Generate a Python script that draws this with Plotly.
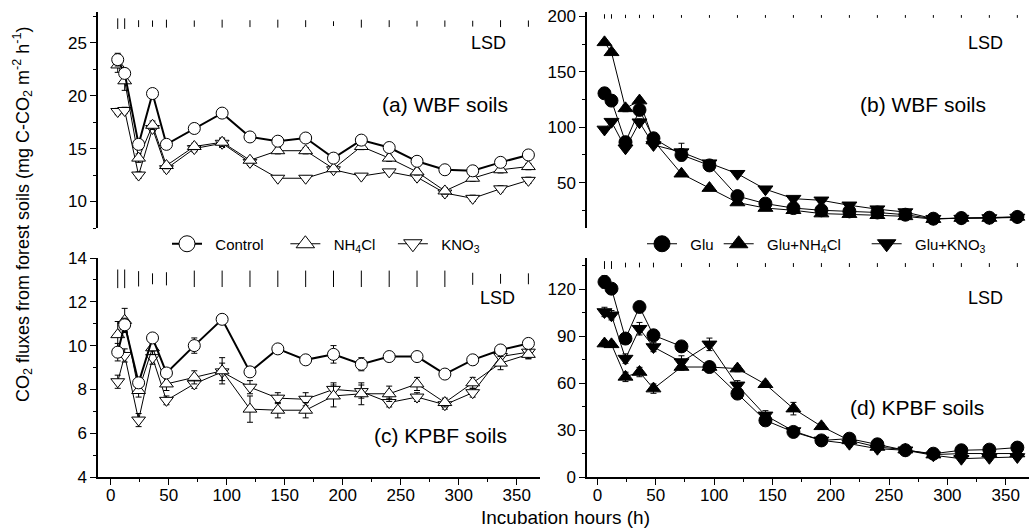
import plotly.graph_objects as go

W, H = 1029, 531

hours = [6, 12, 24, 36, 48, 72, 96, 120, 144, 168, 192, 216, 240, 264, 288, 312, 336, 360]

# (a) WBF soils, no glucose
wbf_control = [23.4, 22.1, 15.4, 20.2, 15.4, 16.9, 18.35, 16.1, 15.7, 16.0, 14.1, 15.8, 15.1, 13.8, 13.0, 12.9, 13.7, 14.4]
wbf_nh4cl = [22.9, 21.4, 14.1, 17.2, 13.4, 15.2, 15.6, 13.9, 14.8, 14.8, 13.1, 15.2, 14.1, 12.8, 11.0, 12.2, 13.0, 13.3]
wbf_kno3 = [18.5, 18.6, 12.5, 16.9, 13.1, 15.0, 15.5, 13.7, 12.2, 12.2, 13.0, 12.4, 12.8, 12.3, 10.8, 10.3, 11.2, 12.0]
wbf_control_err = [0.6, 0.4, 0.3, 0.3, 0.2, 0.2, 0.2, 0.3, 0.2, 0.2, 0.3, 0.2, 0.2, 0.2, 0.1, 0.2, 0.2, 0.2]
wbf_nh4cl_err = [0.7, 0.9, 0.4, 0.4, 0.3, 0.3, 0.4, 0.2, 0.3, 0.3, 0.2, 0.3, 0.3, 0.3, 0.3, 0.3, 0.3, 0.3]
wbf_kno3_err = [0.3, 0.3, 0.3, 0.3, 0.3, 0.3, 0.4, 0.3, 0.2, 0.2, 0.2, 0.2, 0.2, 0.3, 0.3, 0.3, 0.3, 0.3]
wbf_lsd = [1.0, 1.0, 0.65, 0.6, 0.75, 0.6, 0.75, 0.65, 0.75, 0.65, 0.45, 0.75, 0.65, 0.55, 0.6, 0.55, 0.65, 0.6]

# (b) WBF soils, with glucose
wbf_glu = [130.6, 124.0, 86.5, 115.6, 90.0, 75.0, 65.5, 37.8, 31.0, 27.0, 25.0, 24.0, 23.0, 21.0, 17.4, 18.0, 18.3, 19.0]
wbf_glu_nh4cl = [176.6, 167.6, 117.0, 124.0, 88.0, 58.0, 45.0, 32.0, 27.0, 25.0, 22.0, 21.5, 20.5, 19.5, 17.0, 18.0, 18.0, 19.0]
wbf_glu_kno3 = [98.0, 105.0, 81.0, 104.5, 84.0, 77.5, 67.5, 58.0, 44.0, 35.5, 34.0, 29.5, 26.0, 23.4, 17.4, 17.5, 18.0, 18.5]
wbf_glu_err = [2, 2, 2, 3, 2, 2, 2, 2, 1.5, 1.5, 1.5, 1.5, 1.5, 1.5, 1, 1, 1, 1]
wbf_glu_nh4cl_err = [2, 2, 3, 2, 2, 2, 2, 2, 1.5, 1.5, 1.5, 1.5, 1.5, 1.5, 1, 1, 1, 1]
wbf_glu_kno3_err = [2, 2, 2, 3, 2, 8, 2, 2, 2, 1.5, 2, 2, 2, 2, 1, 1, 1, 1]
wbf_glu_lsd = [4, 4, 3, 3, 3, 2.5, 2.5, 2.5, 2.5, 2.5, 2.5, 2.5, 2.5, 2.5, 2.5, 2.5, 2.5, 2.5]

# (c) KPBF soils, no glucose
kpbf_control = [9.7, 10.95, 8.3, 10.35, 8.75, 10.0, 11.2, 8.8, 9.85, 9.35, 9.6, 9.15, 9.5, 9.5, 8.7, 9.35, 9.8, 10.1]
kpbf_nh4cl = [10.5, 11.15, 7.95, 9.9, 8.25, 8.55, 8.85, 7.1, 7.05, 7.05, 7.7, 7.8, 7.8, 8.25, 7.4, 8.3, 9.2, 9.6]
kpbf_kno3 = [8.35, 9.55, 6.6, 9.45, 7.5, 8.25, 8.8, 8.1, 7.6, 7.55, 8.0, 7.9, 7.4, 7.65, 7.3, 7.85, 9.5, 9.7]
kpbf_control_err = [0.4, 0.3, 0.15, 0.15, 0.15, 0.35, 0.1, 0.1, 0.1, 0.1, 0.4, 0.3, 0.1, 0.1, 0.1, 0.1, 0.15, 0.15]
kpbf_nh4cl_err = [0.6, 0.55, 0.3, 0.3, 0.3, 0.3, 0.6, 0.6, 0.35, 0.35, 0.5, 0.5, 0.35, 0.3, 0.2, 0.25, 0.3, 0.2]
kpbf_kno3_err = [0.3, 0.3, 0.3, 0.3, 0.2, 0.2, 0.4, 0.3, 0.25, 0.3, 0.3, 0.3, 0.2, 0.2, 0.2, 0.2, 0.3, 0.3]
kpbf_lsd = [0.85, 0.85, 0.7, 0.5, 0.6, 0.75, 0.75, 0.75, 0.75, 0.75, 0.75, 0.75, 0.75, 0.75, 0.75, 0.55, 0.45, 0.5]

# (d) KPBF soils, with glucose
kpbf_glu = [124.7, 120.4, 88.5, 108.7, 90.6, 83.5, 70.3, 53.3, 36.2, 28.8, 23.4, 24.5, 20.9, 17.1, 14.9, 17.1, 17.5, 18.8]
kpbf_glu_nh4cl = [85.3, 84.8, 64.0, 67.1, 56.5, 70.3, 70.3, 69.3, 59.3, 43.7, 32.4, 23.4, 19.2, 17.5, 14.3, 15.0, 15.0, 15.0]
kpbf_glu_kno3 = [105.5, 103.4, 75.7, 94.8, 83.1, 73.5, 84.8, 58.6, 39.4, 29.4, 23.4, 21.3, 18.1, 17.1, 13.9, 11.7, 12.3, 12.8]
kpbf_glu_err = [4, 3, 2, 3, 3, 2, 2, 3, 2, 2, 2, 2, 2, 1.5, 1.5, 1.5, 1.5, 1.5]
kpbf_glu_nh4cl_err = [2, 2, 3, 3, 3, 2, 2, 2, 2, 4, 2, 2, 2, 1.5, 1.5, 1.5, 1.5, 1.5]
kpbf_glu_kno3_err = [3, 3, 3, 4, 3, 4, 4, 3, 3, 2, 2, 2, 2, 1.5, 1.5, 1.5, 1.5, 1.5]
kpbf_glu_lsd = [5, 5, 3, 3, 3, 2.5, 2.5, 2.5, 2.5, 2.5, 2.5, 2.5, 2.5, 2.5, 2.5, 2.5, 2.5, 2.5]

names_plain = ["Control", "NH<sub>4</sub>Cl", "KNO<sub>3</sub>"]
names_glu = ["Glu", "Glu+NH<sub>4</sub>Cl", "Glu+KNO<sub>3</sub>"]

FONT = "Liberation Sans, Arial, sans-serif"
NB = "\u00a0"
fig = go.Figure()


def add_series(y, err, xa, ya, symbol, fill, lw, size=12):
    fig.add_trace(go.Scatter(
        x=hours, y=y, xaxis=xa, yaxis=ya, mode="lines+markers",
        line=dict(color="black", width=lw),
        marker=dict(symbol=symbol, size=size, color=fill, line=dict(color="black", width=1)),
        error_y=dict(type="data", array=err, visible=True, color="black", thickness=1, width=3),
        showlegend=False,
    ))


def add_legend_entry(name, trail, symbol, fill, lw, legend):
    fig.add_trace(go.Scatter(
        x=[None], y=[None], xaxis="x3", yaxis="y3", mode="lines+markers",
        name=NB * 2 + name + NB * trail,
        line=dict(color="black", width=lw),
        marker=dict(symbol=symbol, size=16, color=fill, line=dict(color="black", width=1)),
        legend=legend, showlegend=True,
    ))


def add_lsd(lsd, center, xa, ya):
    fig.add_trace(go.Scatter(
        x=hours, y=[center] * len(hours), xaxis=xa, yaxis=ya, mode="markers",
        marker=dict(size=1, color="rgba(0,0,0,0)"),
        error_y=dict(type="data", array=[v / 2 for v in lsd], visible=True,
                     color="black", thickness=1, width=0),
        showlegend=False, hoverinfo="skip",
    ))


# panel (a)
add_lsd(wbf_lsd, 26.8, "x", "y")
add_series(wbf_kno3, wbf_kno3_err, "x", "y", "triangle-down", "white", 1)
add_series(wbf_nh4cl, wbf_nh4cl_err, "x", "y", "triangle-up", "white", 1)
add_series(wbf_control, wbf_control_err, "x", "y", "circle", "white", 2)
# panel (b)
add_lsd(wbf_glu_lsd, 200, "x2", "y2")
add_series(wbf_glu_kno3, wbf_glu_kno3_err, "x2", "y2", "triangle-down", "black", 1, 13)
add_series(wbf_glu_nh4cl, wbf_glu_nh4cl_err, "x2", "y2", "triangle-up", "black", 1, 13)
add_series(wbf_glu, wbf_glu_err, "x2", "y2", "circle", "black", 1, 13)
# panel (c)
add_lsd(kpbf_lsd, 13.05, "x3", "y3")
add_series(kpbf_kno3, kpbf_kno3_err, "x3", "y3", "triangle-down", "white", 1)
add_series(kpbf_nh4cl, kpbf_nh4cl_err, "x3", "y3", "triangle-up", "white", 1)
add_series(kpbf_control, kpbf_control_err, "x3", "y3", "circle", "white", 2)
# panel (d)
add_lsd(kpbf_glu_lsd, 135.5, "x4", "y4")
add_series(kpbf_glu_kno3, kpbf_glu_kno3_err, "x4", "y4", "triangle-down", "black", 1, 13)
add_series(kpbf_glu_nh4cl, kpbf_glu_nh4cl_err, "x4", "y4", "triangle-up", "black", 1, 13)
add_series(kpbf_glu, kpbf_glu_err, "x4", "y4", "circle", "black", 1, 13)

# legends
add_legend_entry(names_plain[0], 4, "circle", "white", 2, "legend")
add_legend_entry(names_plain[1], 3, "triangle-up", "white", 1, "legend")
add_legend_entry(names_plain[2], 0, "triangle-down", "white", 1, "legend")
add_legend_entry(names_glu[0], 0, "circle", "black", 1, "legend2")
add_legend_entry(names_glu[1], 5, "triangle-up", "black", 1, "legend2")
add_legend_entry(names_glu[2], 0, "triangle-down", "black", 1, "legend2")


def px_x(a, b):
    return [a / W, b / W]


def px_y(top, bottom):
    return [1 - bottom / H, 1 - top / H]


tickfont = dict(family=FONT, size=17, color="black")


def xax(domain, rng, anchor, visible):
    d = dict(domain=domain, range=rng, anchor=anchor, automargin=False,
             showgrid=False, zeroline=False, tickfont=tickfont)
    if visible:
        d.update(showline=True, linecolor="black", linewidth=1.5, ticks="outside",
                 ticklen=6, tickwidth=1.2, tickcolor="black", dtick=50, tick0=0,
                 ticklabelstandoff=-4,
                 minor=dict(ticks="outside", ticklen=3, dtick=25, tickcolor="black", tickwidth=1))
    else:
        d.update(showline=False, showticklabels=False, ticks="")
    return d


def yax(domain, rng, anchor, dtick):
    return dict(domain=domain, range=rng, anchor=anchor, automargin=False,
                showgrid=False, zeroline=False, tickfont=tickfont,
                showline=True, linecolor="black", linewidth=1.5, ticks="outside",
                ticklen=6, tickwidth=1.2, tickcolor="black", dtick=dtick, tick0=0,
                minor=dict(ticks="outside", ticklen=3, dtick=dtick / 2, tickcolor="black", tickwidth=1))


LX = px_x(98, 540)
RX = px_x(587, 1029)
TY = px_y(12, 228)
BY = px_y(258, 477)

legend_style = dict(orientation="h", y=1 - 244 / H, xanchor="left", yanchor="middle",
                    bgcolor="rgba(0,0,0,0)", font=dict(family=FONT, size=15, color="black"),
                    itemsizing="trace", tracegroupgap=0)

fig.update_layout(
    width=W, height=H, template="none",
    paper_bgcolor="white", plot_bgcolor="white",
    margin=dict(l=0, r=0, t=0, b=0),
    font=dict(family=FONT, size=14, color="black"),
    xaxis=xax(LX, [-11, 370], "y", False),
    yaxis=yax(TY, [7.5, 27.9], "x", 5),
    xaxis2=xax(RX, [-9, 370], "y2", False),
    yaxis2=yax(TY, [9, 204], "x2", 50),
    xaxis3=xax(LX, [-11, 370], "y3", True),
    yaxis3=yax(BY, [4, 14], "x3", 2),
    xaxis4=xax(RX, [-9, 370], "y4", True),
    yaxis4=yax(BY, [0, 140], "x4", 30),
    legend=dict(x=167 / W, **legend_style),
    legend2=dict(x=642 / W, **legend_style),
)

ann = []


def text(x, y, s, size, **kw):
    ann.append(dict(x=x / W, y=1 - y / H, xref="paper", yref="paper", text=s, showarrow=False,
                    xanchor="center", yanchor="middle",
                    font=dict(family=FONT, size=size, color="black"), **kw))


text(488, 43, "LSD", 18)
text(985, 43, "LSD", 18)
text(497, 298, "LSD", 18)
text(985, 298, "LSD", 18)
text(445, 104, "(a) WBF soils", 21)
text(923, 104, "(b) WBF soils", 21)
text(440, 435, "(c) KPBF soils", 21)
text(917, 407, "(d) KPBF soils", 21)
text(565, 517, "Incubation hours (h)", 19)
text(22, 214, "CO<sub>2</sub> fluxes from forest soils (mg C-CO<sub>2</sub> m<sup>-2</sup> h<sup>-1</sup>)",
     18, textangle=-90)
fig.update_layout(annotations=ann)

fig.write_html("out.html")
